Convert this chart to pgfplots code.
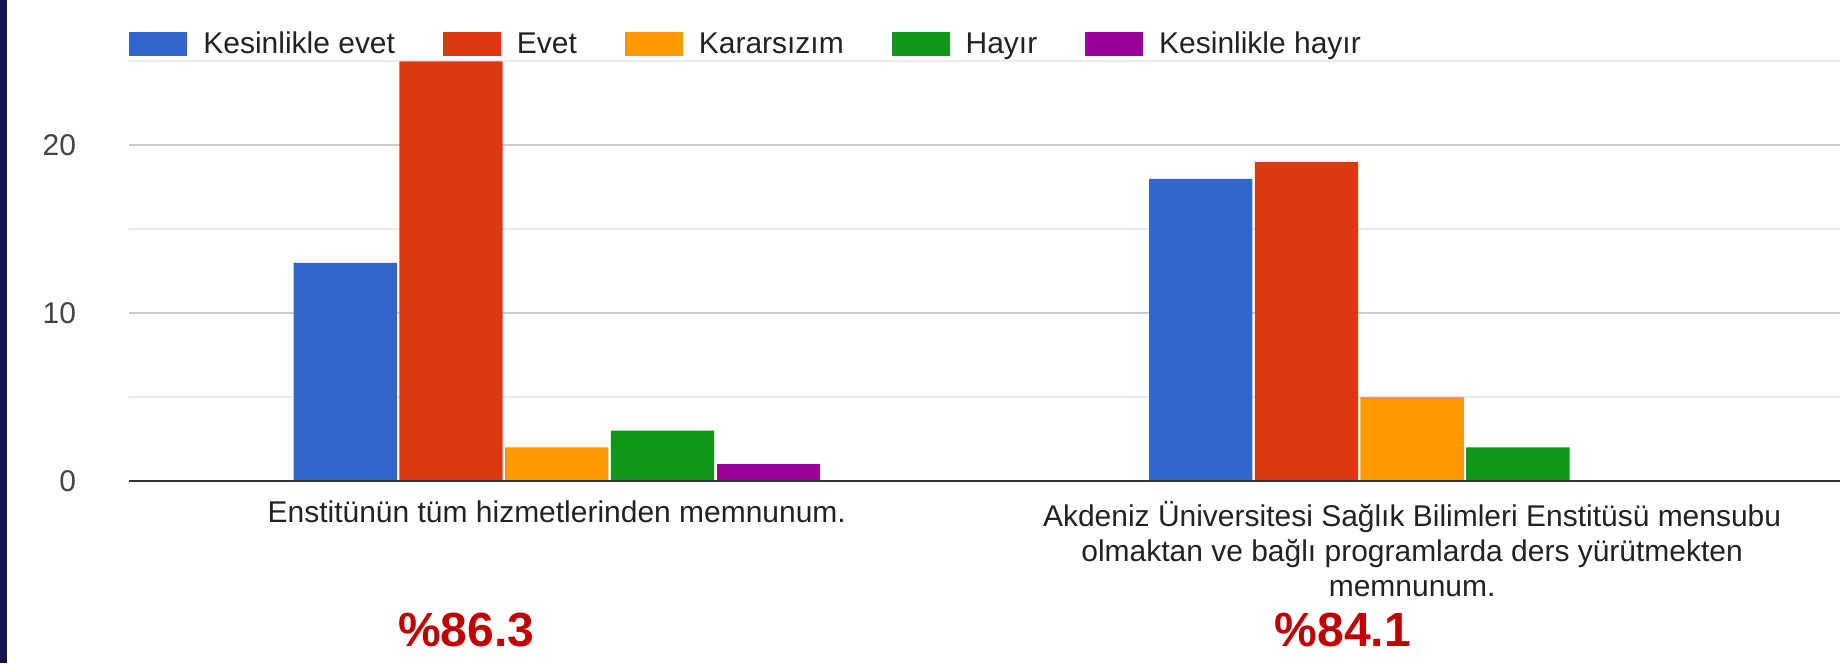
\documentclass[border=0pt]{standalone}
\usepackage{fontspec}
\setmainfont{Liberation Sans}
\usepackage{pgfplots}
\pgfplotsset{compat=1.18}
\definecolor{gblue}{HTML}{3366CC}
\definecolor{gred}{HTML}{DC3912}
\definecolor{gorange}{HTML}{FF9900}
\definecolor{ggreen}{HTML}{109618}
\definecolor{gpurple}{HTML}{990099}
\definecolor{gridmaj}{HTML}{CCCCCC}
\definecolor{gridmin}{HTML}{EBEBEB}
\definecolor{ticktext}{HTML}{444444}
\definecolor{labeltext}{HTML}{222222}
\definecolor{pctred}{HTML}{C00000}
\definecolor{navy}{RGB}{22,20,78}
\newcommand{\chartfont}{\fontsize{15}{17.6}\selectfont}
\begin{document}
\begin{tikzpicture}
\begin{axis}[
  scale only axis, width=856pt, height=210pt,
  ybar=1.2pt, bar width=51.7pt,
  xmin=-0.5, xmax=1.5, ymin=0, ymax=25,
  enlargelimits=false, clip=false,
  axis line style={draw=none},
  major tick length=0pt, minor tick length=0pt,
  /pgf/number format/assume math mode=true,
  xtick={0,1},
  xticklabels={{Enstitünün tüm hizmetlerinden memnunum.},
    {Akdeniz Üniversitesi Sağlık Bilimleri Enstitüsü mensubu\\olmaktan ve bağlı programlarda ders yürütmekten\\memnunum.}},
  xticklabel style={font=\chartfont, text=labeltext, align=center, yshift=-6.5pt},
  ytick={0,10,20}, minor ytick={5,15,25},
  yticklabel style={font=\chartfont, text=ticktext, xshift=-23pt},
  ymajorgrids, yminorgrids,
  major grid style={draw=gridmaj, line width=0.9pt},
  minor grid style={draw=gridmin, line width=0.9pt},
  legend columns=-1,
  legend style={at={(0,1)}, anchor=west, yshift=8.5pt, draw=none, fill=none,
    font=\chartfont, text=labeltext, inner sep=0pt,
    /tikz/every even column/.append style={column sep=22pt},
    /tikz/every odd column/.append style={column sep=6pt}},
  legend image code/.code={\fill[#1] (0pt,-6pt) rectangle (29pt,6pt);},
]
\addplot[fill=gblue, draw=none] coordinates {(0,13) (1,18)};
\addplot[fill=gred, draw=none] coordinates {(0,25) (1,19)};
\addplot[fill=gorange, draw=none] coordinates {(0,2) (1,5)};
\addplot[fill=ggreen, draw=none] coordinates {(0,3) (1,2)};
\addplot[fill=gpurple, draw=none] coordinates {(0,1)};
\legend{Kesinlikle evet, Evet, Kararsızım, Hayır, Kesinlikle hayır}
\draw[black!80, line width=1.2pt] (rel axis cs:0,0) -- (rel axis cs:1,0);
\node[font=\bfseries\fontsize{24}{24}\selectfont, text=pctred] at (axis cs:-0.106,-8.87) {\%86.3};
\node[font=\bfseries\fontsize{24}{24}\selectfont, text=pctred] at (axis cs:0.919,-8.87) {\%84.1};
\end{axis}
\fill[navy] (-64.6pt,-91.3pt) rectangle (-61.1pt,240.7pt);
\path[use as bounding box] (-64.6pt,-91.3pt) rectangle (856pt,240.7pt);
\end{tikzpicture}
\end{document}
